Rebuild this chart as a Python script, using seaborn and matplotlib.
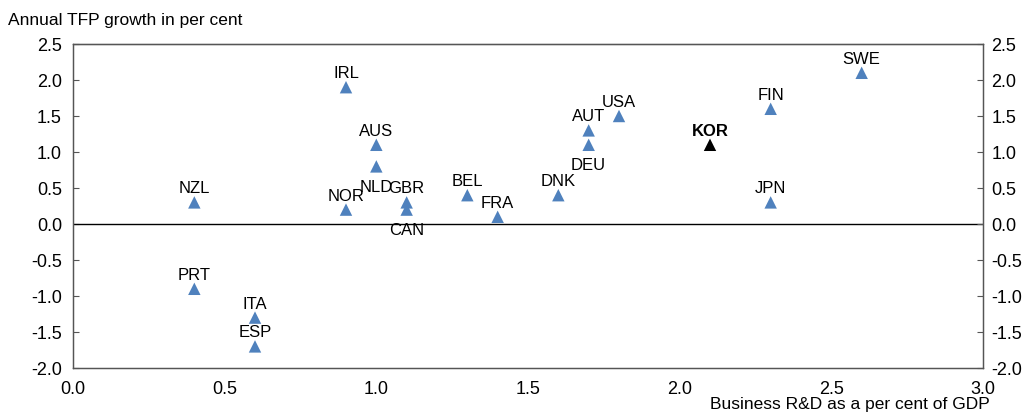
import matplotlib
matplotlib.use("Agg")
import matplotlib.pyplot as plt
import seaborn as sns
import pandas as pd

countries = ["NZL", "PRT", "ITA", "ESP", "IRL", "NOR", "AUS", "NLD", "GBR", "CAN",
             "BEL", "FRA", "DNK", "AUT", "DEU", "USA", "KOR", "FIN", "JPN", "SWE"]
rd_share = [0.4, 0.4, 0.6, 0.6, 0.9, 0.9, 1.0, 1.0, 1.1, 1.1,
            1.3, 1.4, 1.6, 1.7, 1.7, 1.8, 2.1, 2.3, 2.3, 2.6]
tfp_growth = [0.3, -0.9, -1.3, -1.7, 1.9, 0.2, 1.1, 0.8, 0.3, 0.2,
              0.4, 0.1, 0.4, 1.3, 1.1, 1.5, 1.1, 1.6, 0.3, 2.1]
below_labels = ["NLD", "DEU", "CAN"]
y_ticks = [-2.0, -1.5, -1.0, -0.5, 0.0, 0.5, 1.0, 1.5, 2.0, 2.5]
x_ticks = [0.0, 0.5, 1.0, 1.5, 2.0, 2.5, 3.0]

df = pd.DataFrame({"country": countries, "rd": rd_share, "tfp": tfp_growth})
df["group"] = ["Korea" if c == "KOR" else "Other" for c in countries]

sns.set_theme(style="white")
plt.rcParams["font.family"] = ["Liberation Sans", "DejaVu Sans"]

fig = plt.figure(figsize=(10.31, 4.14), dpi=100)
ax = fig.add_axes([73 / 1031, 1 - 369 / 414, 910 / 1031, 324 / 414])

sns.scatterplot(data=df, x="rd", y="tfp", hue="group",
                palette={"Other": "#4F81BD", "Korea": "#000000"},
                marker="^", s=80, edgecolor="none", legend=False, ax=ax, zorder=3)

ax.axhline(0, color="black", lw=1, zorder=2)

for c, x, y in zip(countries, rd_share, tfp_growth):
    bold = c == "KOR"
    if c in below_labels:
        ax.annotate(c, (x, y), xytext=(0, -9), textcoords="offset points",
                    ha="center", va="top", fontsize=12, color="#000000")
    else:
        ax.annotate(c, (x, y), xytext=(0, 5), textcoords="offset points",
                    ha="center", va="bottom", fontsize=12, color="#000000",
                    fontweight="bold" if bold else "normal")

ax.set_xlim(0, 3.0)
ax.set_ylim(-2.0, 2.5)
ax.set_xticks(x_ticks)
ax.set_xticklabels([f"{v:.1f}" for v in x_ticks])
ax.set_yticks(y_ticks)
ax.set_yticklabels([f"{v:.1f}" for v in y_ticks])
ax.tick_params(axis="both", direction="in", length=4, width=0.8, color="#555555",
               labelsize=13, labelcolor="#000000")
ax.tick_params(axis="x", pad=9)
ax.tick_params(axis="y", pad=8)
ax.set_xlabel("")
ax.set_ylabel("")

ax2 = ax.twinx()
ax2.set_ylim(-2.0, 2.5)
ax2.set_yticks(y_ticks)
ax2.set_yticklabels([f"{v:.1f}" for v in y_ticks])
ax2.tick_params(axis="y", direction="in", length=4, width=0.8, color="#555555",
                labelsize=13, labelcolor="#000000", pad=6)

for a in (ax, ax2):
    for s in a.spines.values():
        s.set_color("#555555")
        s.set_linewidth(0.9)
        s.set_visible(True)
ax.spines["top"].set_color("#000000")

fig.text(8 / 1031, 1 - 20 / 414, "Annual TFP growth in per cent", fontsize=12.5,
         ha="left", va="center", color="#000000")
fig.text(990 / 1031, 1 - 405 / 414, "Business R&D as a per cent of GDP", fontsize=12.5,
         ha="right", va="center", color="#000000")

fig.savefig("out.png", dpi=100)
